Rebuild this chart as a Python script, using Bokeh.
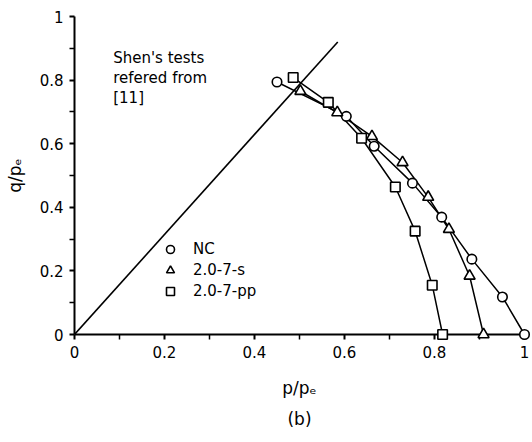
from bokeh.plotting import figure
from bokeh.models import Range1d, FixedTicker, Legend, LegendItem, Title
from bokeh.core.properties import value
from bokeh.embed import file_html
from bokeh.resources import INLINE

# ---- data ----
nc_p = [0.450, 0.604, 0.666, 0.751, 0.816, 0.883, 0.951, 1.000]
nc_q = [0.794, 0.686, 0.592, 0.476, 0.369, 0.237, 0.118, 0.000]
s_p = [0.502, 0.584, 0.661, 0.729, 0.786, 0.832, 0.878, 0.909]
s_q = [0.765, 0.698, 0.623, 0.541, 0.432, 0.331, 0.184, 0.000]
pp_p = [0.486, 0.564, 0.638, 0.713, 0.757, 0.795, 0.818]
pp_q = [0.808, 0.730, 0.617, 0.464, 0.325, 0.155, 0.000]
line_p = [0.0, 0.585]
line_q = [0.0, 0.920]
series_names = ["NC", "2.0-7-s", "2.0-7-pp"]
tick_values = [0, 0.2, 0.4, 0.6, 0.8, 1]
minor_tick_values = [0.1, 0.3, 0.5, 0.7, 0.9]
note_lines = ["Shen's tests", "refered from", "[11]"]

FONT = "DejaVu Sans"

p = figure(width=532, height=442, output_backend="svg", toolbar_location=None,
           x_range=Range1d(0, 1), y_range=Range1d(0, 1),
           min_border_left=74, min_border_right=8, min_border_top=16,
           min_border_bottom=108)
p.outline_line_color = None
p.xgrid.visible = False
p.ygrid.visible = False
p.background_fill_color = "white"
p.border_fill_color = "white"

for ax in (p.xaxis[0], p.yaxis[0]):
    ax.ticker = FixedTicker(ticks=tick_values, minor_ticks=minor_tick_values)
    ax.major_label_overrides = {0: "0", 1: "1"}
    ax.axis_line_width = 2
    ax.axis_line_color = "black"
    ax.major_tick_line_width = 2
    ax.major_tick_in = 0
    ax.major_tick_out = 5
    ax.minor_tick_line_width = 1.5
    ax.minor_tick_in = 0
    ax.minor_tick_out = 5
    ax.major_label_text_font = FONT
    ax.major_label_text_font_size = "15px"
    ax.major_label_text_color = "black"
    ax.major_label_standoff = 6
    ax.axis_label_text_font = FONT
    ax.axis_label_text_font_size = "17px"
    ax.axis_label_text_font_style = "normal"
    ax.axis_label_text_color = "black"

p.xaxis[0].axis_label = "p/pₑ"
p.xaxis[0].axis_label_standoff = 17
p.yaxis[0].axis_label = "q/pₑ"
p.yaxis[0].axis_label_standoff = 12

p.add_layout(Title(text="(b)", align="center", text_font=FONT,
                   text_font_size="17px", text_font_style="normal",
                   text_color="black", standoff=12), "below")

# diagonal line
p.line(line_p, line_q, line_color="black", line_width=1.6)

# series lines
p.line(nc_p, nc_q, line_color="black", line_width=1.5)
p.line(s_p, s_q, line_color="black", line_width=1.5)
p.line(pp_p, pp_q, line_color="black", line_width=1.5)

r_nc = p.scatter(nc_p, nc_q, marker="circle", size=9.5, fill_color="white",
                 line_color="black", line_width=1.6, level="overlay")
r_s = p.scatter(s_p, s_q, marker="triangle", size=11, fill_color="white",
                line_color="black", line_width=1.6, level="overlay")
r_pp = p.scatter(pp_p, pp_q, marker="square", size=9.5, fill_color="white",
                 line_color="black", line_width=1.6, level="overlay")

p.text(x=[0.086], y=[0.897], text=["\n".join(note_lines)],
       text_baseline="top", text_align="left", text_font=value(FONT),
       text_font_size="15px", text_color="black", text_line_height=1.1)

legend = Legend(items=[LegendItem(label=series_names[0], renderers=[r_nc]),
                       LegendItem(label=series_names[1], renderers=[r_s]),
                       LegendItem(label=series_names[2], renderers=[r_pp])],
                location=(86, 33), glyph_width=20, glyph_height=20,
                spacing=1, padding=0, margin=0, label_standoff=13,
                border_line_color=None, background_fill_alpha=0,
                label_text_font=FONT, label_text_font_size="15px",
                label_text_color="black")
p.add_layout(legend, "center")

open("out.html", "w").write(file_html(p, INLINE))
